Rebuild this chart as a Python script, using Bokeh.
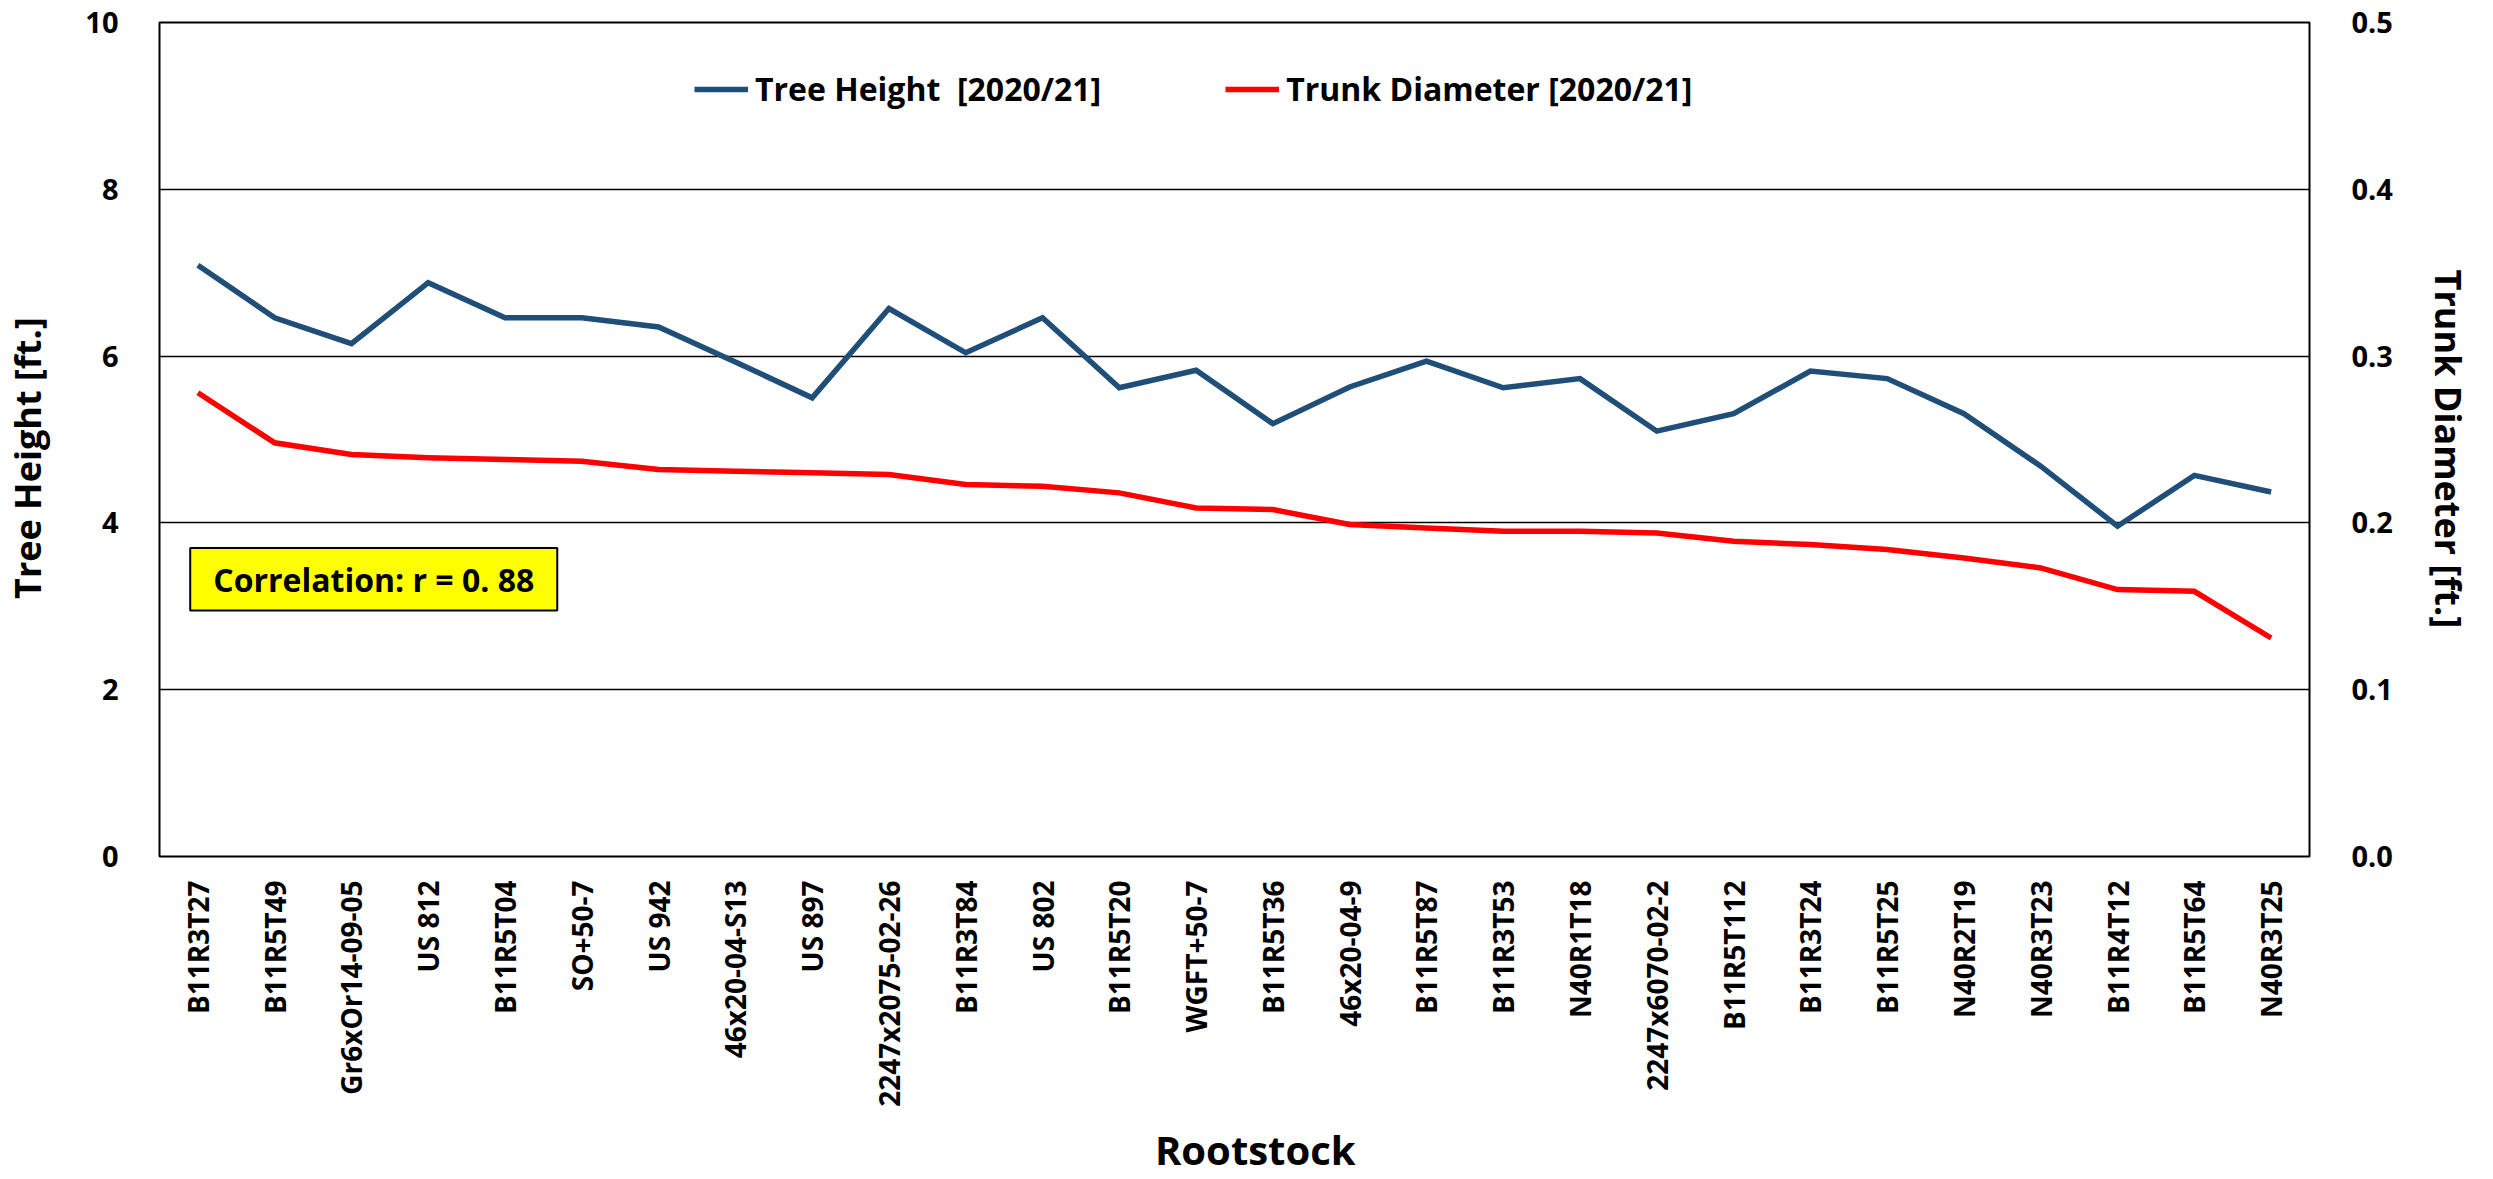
import math
from bokeh.plotting import figure
from bokeh.models import (FactorRange, Range1d, LinearAxis, FixedTicker, NumeralTickFormatter,
                          Legend, LegendItem, BoxAnnotation, Label)
from bokeh.embed import file_html
from bokeh.resources import INLINE

categories = ["B11R3T27", "B11R5T49", "Gr6xOr14-09-05", "US 812", "B11R5T04", "SO+50-7", "US 942",
              "46x20-04-S13", "US 897", "2247x2075-02-26", "B11R3T84", "US 802", "B11R5T20",
              "WGFT+50-7", "B11R5T36", "46x20-04-9", "B11R5T87", "B11R3T53", "N40R1T18",
              "2247x6070-02-2", "B11R5T112", "B11R3T24", "B11R5T25", "N40R2T19", "N40R3T23",
              "B11R4T12", "B11R5T64", "N40R3T25"]
tree_height = [7.09, 6.46, 6.15, 6.88, 6.46, 6.46, 6.35, 5.93, 5.50, 6.57, 6.04, 6.46, 5.62, 5.83,
               5.19, 5.63, 5.94, 5.62, 5.73, 5.10, 5.31, 5.82, 5.73, 5.31, 4.68, 3.96, 4.57, 4.37]
trunk_diameter = [0.278, 0.248, 0.241, 0.239, 0.238, 0.237, 0.232, 0.231, 0.230, 0.229, 0.223,
                  0.222, 0.218, 0.209, 0.208, 0.199, 0.197, 0.195, 0.195, 0.194, 0.189, 0.187,
                  0.184, 0.179, 0.173, 0.160, 0.159, 0.131]
left_ticks = [0, 2, 4, 6, 8, 10]
right_ticks = [0.0, 0.1, 0.2, 0.3, 0.4, 0.5]
series_names = ["Tree Height  [2020/21]", "Trunk Diameter [2020/21]"]
correlation_text = "Correlation: r = 0. 88"
x_title = "Rootstock"
left_title = "Tree Height [ft.]"
right_title = "Trunk Diameter [ft.]"

FONT = "Open Sans"
BLACK = "#000000"
NB = "\u00a0"  # non-breaking spaces nudge the titles off-centre like the original

p = figure(x_range=FactorRange(factors=categories, range_padding=0),
           y_range=Range1d(0, 10), width=2493, height=1179,
           output_backend="svg", toolbar_location=None,
           min_border_left=159, min_border_right=184, min_border_top=22, min_border_bottom=323)
p.extra_y_ranges = {"diam": Range1d(0, 0.5)}

p.outline_line_color = "black"
p.outline_line_width = 2
p.outline_line_alpha = 1
p.xgrid.visible = False
p.ygrid.ticker = FixedTicker(ticks=left_ticks)
p.ygrid.grid_line_color = "black"
p.ygrid.grid_line_width = 1.5

r1 = p.line(x=categories, y=tree_height, line_color="#1F4E79", line_width=5.5, line_join="miter")
r2 = p.line(x=categories, y=trunk_diameter, y_range_name="diam", line_color="#FF0000",
            line_width=5.5, line_join="miter")


def style_axis(ax, label_size, title_size):
    ax.axis_line_color = None
    ax.major_tick_line_color = None
    ax.minor_tick_line_color = None
    ax.major_label_text_font = FONT
    ax.major_label_text_font_style = "bold"
    ax.major_label_text_font_size = label_size
    ax.major_label_text_color = BLACK
    ax.axis_label_text_font = FONT
    ax.axis_label_text_font_style = "bold"
    ax.axis_label_text_font_size = title_size
    ax.axis_label_text_color = BLACK


# left axis
ya = p.yaxis[0]
ya.ticker = FixedTicker(ticks=left_ticks)
ya.axis_label = left_title + NB * 4
style_axis(ya, "29px", "36px")
ya.major_label_standoff = 35
ya.axis_label_standoff = 30

# right axis
ra = LinearAxis(y_range_name="diam", ticker=FixedTicker(ticks=right_ticks),
                formatter=NumeralTickFormatter(format="0.0"),
                axis_label=NB * 2 + right_title)
style_axis(ra, "29px", "36px")
ra.major_label_standoff = 36
ra.axis_label_standoff = 28
p.add_layout(ra, "right")

# bottom axis
xa = p.xaxis[0]
xa.axis_label = NB * 4 + x_title
style_axis(xa, "28px", "40px")
xa.major_label_orientation = math.pi / 2
xa.major_label_standoff = 18
xa.axis_label_standoff = 12

legend = Legend(items=[LegendItem(label=series_names[0], renderers=[r1]),
                       LegendItem(label=series_names[1], renderers=[r2])],
                orientation="horizontal", location=(535, 746),
                border_line_color=None, background_fill_alpha=0,
                spacing=124, glyph_width=54, label_standoff=7, padding=5,
                label_text_font=FONT, label_text_font_style="bold",
                label_text_font_size="32px", label_text_color=BLACK)
p.add_layout(legend, "center")

box = BoxAnnotation(left=0.40, right=5.18, bottom=2.95, top=3.70,
                    fill_color="#FFFF00", fill_alpha=1, line_color="black", line_width=2,
                    line_alpha=1)
p.add_layout(box)
lab = Label(x=2.79, y=3.325, text=correlation_text, text_align="center",
            text_baseline="middle", text_font=FONT, text_font_style="bold",
            text_font_size="32px", text_color=BLACK)
p.add_layout(lab)

open("out.html", "w").write(file_html(p, INLINE))
